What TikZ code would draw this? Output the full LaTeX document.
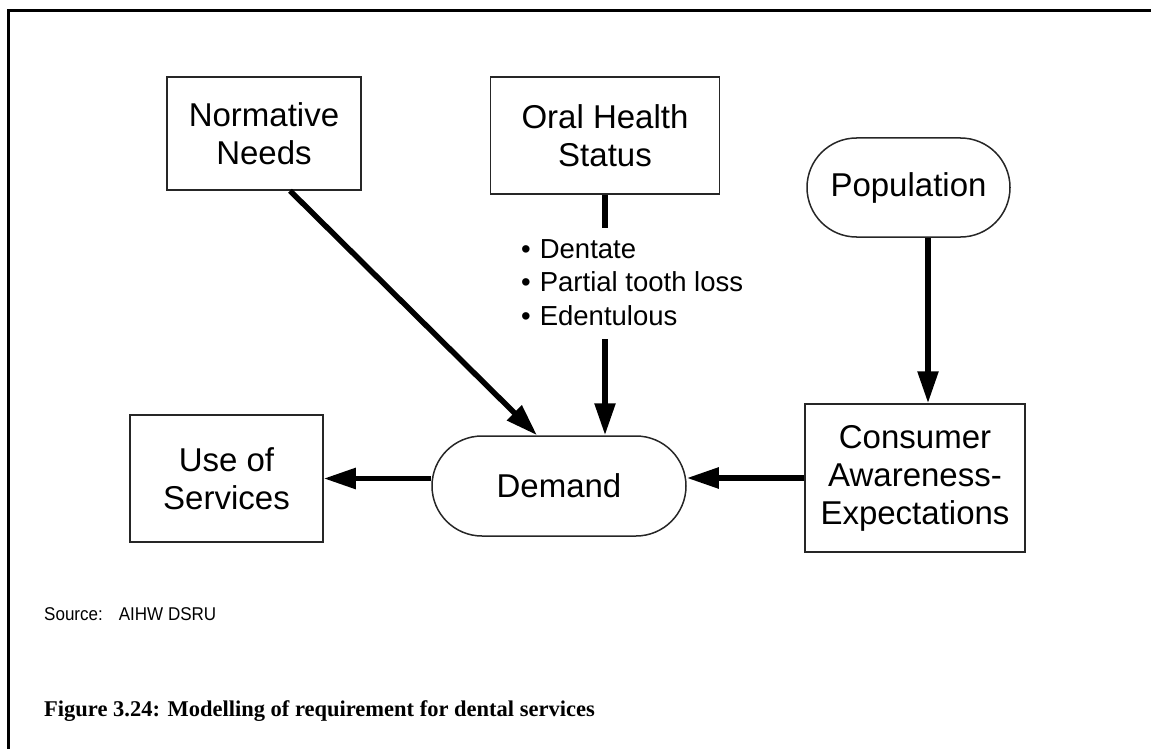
\documentclass[tikz,border=0pt]{standalone}
\usepackage{fontspec}
\setmainfont{Liberation Sans}
\newfontfamily\capfont{Liberation Serif}
\newfontfamily\srcfont[FakeStretch=0.92]{Liberation Sans}
\usetikzlibrary{shapes.misc,arrows.meta,calc}
\begin{document}
\begin{tikzpicture}[x=1pt,y=-1pt,
  box/.style={draw=black!85,line width=1.5pt,align=center,font=\fontsize{33}{38}\selectfont,inner sep=0pt},
  pill/.style={box,rounded rectangle},
  flow/.style={line width=5.5pt,-{Triangle[length=32pt,width=20pt]}},
  plain/.style={line width=5.5pt}]
\useasboundingbox (0,0) rectangle (1151,749);
\coordinate (tl) at (8,11);
\coordinate (tr) at (1151,11);
\coordinate (bl) at (8,749);
\draw[line width=3pt] (tr) -- (tl) -- (bl);

\node[box,minimum width=194pt,minimum height=113pt] (nn) at (264,133.5) {Normative\\Needs};
\node[box,minimum width=229pt,minimum height=117pt] (ohs) at (605,135.5) {Oral Health\\Status};
\node[pill,minimum width=203pt,minimum height=99pt] (pop) at (908.5,187.5) {Population};
\node[box,minimum width=220pt,minimum height=148pt] (con) at (915,478) {Consumer\\Awareness-\\Expectations};
\node[box,minimum width=193pt,minimum height=127pt] (use) at (226.5,478.5) {Use of\\Services};
\node[pill,minimum width=254pt,minimum height=100pt] (dem) at (559,486) {Demand};

\node[anchor=base west,align=left,inner sep=0pt,font=\fontsize{27.5}{33.5}\selectfont] (bul) at (521,325) {\textbullet\hspace{9pt}Dentate\\\textbullet\hspace{9pt}Partial tooth loss\\\textbullet\hspace{9pt}Edentulous};

\coordinate (b1) at (605,228);
\coordinate (b2) at (605,339);
\draw[plain] (ohs.south) -- (b1);
\draw[flow] (b2) -- ([xshift=46pt]dem.north);
\draw[flow] ([xshift=26pt]nn.south) -- ([xshift=-22pt]dem.north);
\draw[flow] ([xshift=19.5pt]pop.south) -- ([xshift=13pt]con.north);
\draw[flow] (con.west) -- (con.west -| dem.east);
\draw[flow] (dem.west |- use.east) -- (use.east);

\node[anchor=base west,inner sep=0pt,font=\srcfont\fontsize{18.5}{22}\selectfont] (src) at (44,620) {Source:\hspace{16pt}AIHW DSRU};
\node[anchor=base west,inner sep=0pt,font=\capfont\bfseries\fontsize{22.5}{26}\selectfont] (cap) at (44,716) {Figure 3.24: Modelling of requirement for dental services};
\end{tikzpicture}
\end{document}
